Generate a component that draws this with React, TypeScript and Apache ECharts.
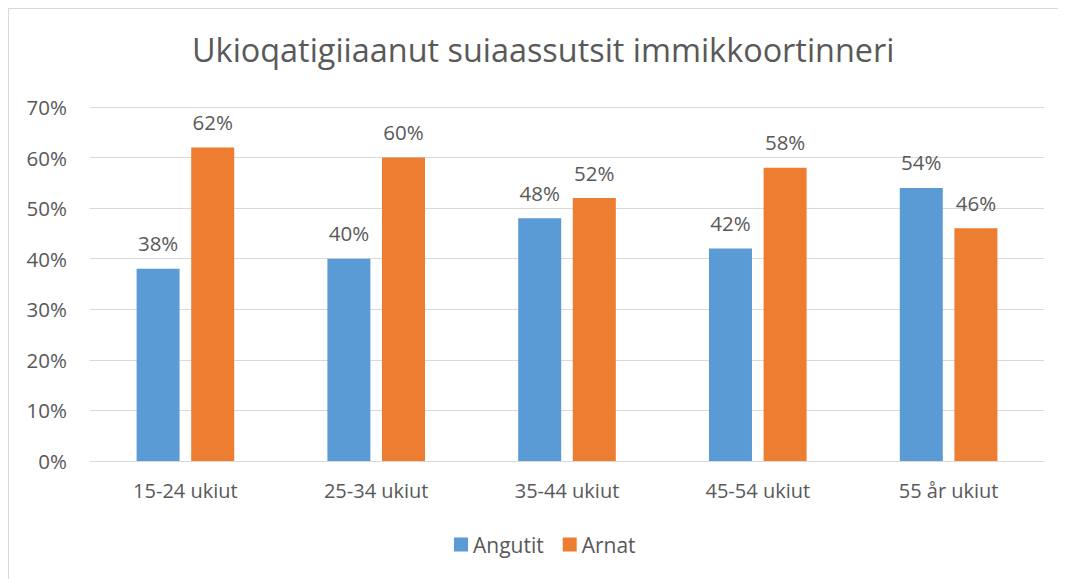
import React, { useEffect, useRef } from "react";
import * as echarts from "echarts";

const title = "Ukioqatigiiaanut suiaassutsit immikkoortinneri";
const categories = ["15-24 ukiut", "25-34 ukiut", "35-44 ukiut", "45-54 ukiut", "55 år ukiut"];
const seriesNames = ["Angutit", "Arnat"];
const angutit = [38, 40, 48, 42, 54];
const arnat = [62, 60, 52, 58, 46];
const colors = ["#5B9BD5", "#ED7D31"];

const FONT = "'Open Sans', 'Noto Sans', sans-serif";
const TEXT = "#595959";

export default function App() {
  const ref = useRef<HTMLDivElement>(null);
  useEffect(() => {
    if (!ref.current) return;
    const chart = echarts.init(ref.current, null, { renderer: "svg" });
    const label = {
      show: true,
      position: "top" as const,
      distance: 15,
      color: TEXT,
      fontFamily: FONT,
      fontSize: 20.5,
      formatter: (p: any) => `${p.value}%`,
    };
    chart.setOption({
      animation: false,
      textStyle: { fontFamily: FONT, color: TEXT },
      title: {
        text: title,
        left: 178,
        top: 19,
        textStyle: { fontFamily: FONT, fontSize: 32.4, fontWeight: "normal", color: TEXT },
      },
      legend: {
        data: seriesNames,
        bottom: 19,
        left: 440,
        icon: "rect",
        itemWidth: 14,
        itemHeight: 14,
        itemGap: 19,
        textStyle: { fontFamily: FONT, fontSize: 21, color: TEXT },
      },
      grid: { left: 81, right: 22, top: 98, bottom: 118, containLabel: false },
      xAxis: {
        type: "category",
        data: categories,
        axisLine: { lineStyle: { color: "#D9D9D9", width: 1 } },
        axisTick: { show: false },
        axisLabel: { color: TEXT, fontFamily: FONT, fontSize: 20, margin: 19 },
      },
      yAxis: {
        type: "value",
        min: 0,
        max: 70,
        interval: 10,
        axisLine: { show: false },
        axisTick: { show: false },
        axisLabel: { color: TEXT, fontFamily: FONT, fontSize: 20.5, margin: 23, formatter: "{value}%" },
        splitLine: { lineStyle: { color: "#D9D9D9", width: 1 } },
      },
      series: [
        { name: seriesNames[0], type: "bar", data: angutit, barWidth: 43, barGap: "27%", itemStyle: { color: colors[0] }, label },
        { name: seriesNames[1], type: "bar", data: arnat, barWidth: 43, itemStyle: { color: colors[1] }, label },
      ],
    });
    return () => chart.dispose();
  }, []);
  return (
    <div
      style={{
        width: 1058,
        height: 571,
        boxSizing: "border-box",
        borderTop: "1px solid #D9D9D9",
        borderLeft: "1px solid #D9D9D9",
        background: "#fff",
      }}
    >
      <div ref={ref} style={{ width: 1057, height: 570 }} />
    </div>
  );
}
